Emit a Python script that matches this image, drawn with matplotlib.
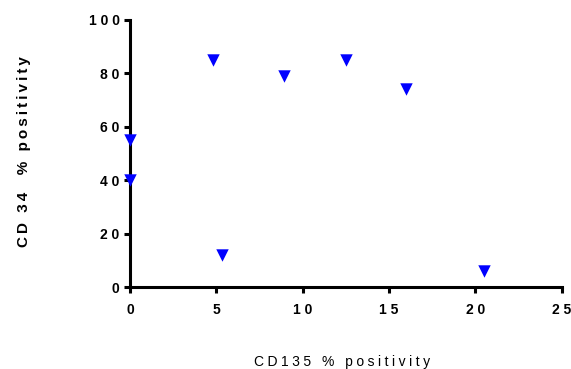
import matplotlib.pyplot as plt
from matplotlib.ticker import FuncFormatter

# CD135 vs CD34 positivity per sample
cd135_pct = [0, 0, 4.8, 5.3, 8.9, 12.5, 16.0, 20.5]
cd34_pct = [55, 40, 85, 12, 79, 85, 74, 6]

x_ticks = [0, 5, 10, 15, 20, 25]
y_ticks = [0, 20, 40, 60, 80, 100]

x_title = 'CD135 % positivity'
y_title = 'CD 34  % positivity'

plt.rcParams['font.family'] = ['Liberation Sans', 'DejaVu Sans']


def spaced(s, sep='\u2009'):
    # letter-spaced text, the way the labels are tracked out
    return sep.join(s)


tick_fmt = FuncFormatter(lambda v, pos: spaced(f'{v:g}', '\u2009\u200a'))

fig = plt.figure(figsize=(5.71, 3.69), dpi=100)
ax = fig.add_axes([0.2277, 0.222, 0.7563, 0.7238])

ax.scatter(cd135_pct, cd34_pct, marker='v', s=80, color='#0000FF',
           linewidths=0, clip_on=False, zorder=3)

ax.set_xlim(0, 25)
ax.set_ylim(0, 100)
ax.set_xticks(x_ticks)
ax.set_yticks(y_ticks)
ax.xaxis.set_major_formatter(tick_fmt)
ax.yaxis.set_major_formatter(tick_fmt)

for side in ['top', 'right']:
    ax.spines[side].set_visible(False)
for side in ['left', 'bottom']:
    ax.spines[side].set_linewidth(2.2)

ax.tick_params(direction='out', length=4.5, width=2.2, labelsize=10)
ax.tick_params(axis='x', pad=7)
ax.tick_params(axis='y', pad=3)
for lbl in ax.get_xticklabels() + ax.get_yticklabels():
    lbl.set_fontweight('bold')

fig.text(24 / 571, 1 - 152 / 369, spaced(y_title), rotation=90,
         ha='center', va='center', fontsize=11, fontweight='bold')
fig.text(342 / 571, 1 - 366 / 369, spaced(x_title, '\u2005'),
         ha='center', va='baseline', fontsize=10)

fig.savefig('out.png', dpi=100)
